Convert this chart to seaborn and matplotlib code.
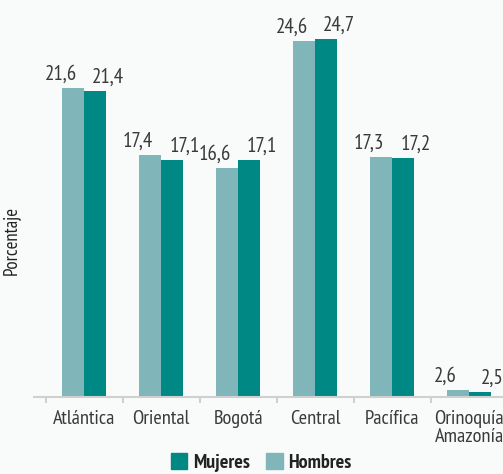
import pandas as pd
import seaborn as sns
import matplotlib.pyplot as plt
from matplotlib.patches import Patch

regiones = ["Atlántica", "Oriental", "Bogotá", "Central", "Pacífica", "Orinoquía\nAmazonía"]
hombres = [21.6, 17.4, 16.6, 24.6, 17.3, 2.6]
mujeres = [21.4, 17.1, 17.1, 24.7, 17.2, 2.5]

c_hom = "#80b5b9"
c_muj = "#008884"
bg = "#f9fafa"
txt = "#3a3a3a"

sns.set_theme(style="white")
plt.rcParams['font.family'] = ['PT Sans Narrow', 'Roboto Condensed', 'Archivo Narrow', 'DejaVu Sans']

df = pd.DataFrame({
    "region": regiones * 2,
    "valor": hombres + mujeres,
    "sexo": ["Hombres"] * len(regiones) + ["Mujeres"] * len(regiones),
})

fig = plt.figure(figsize=(5.03, 4.74), dpi=100, facecolor=bg)
ax = fig.add_axes([0.0676, 0.1624, 0.9324, 0.8376])
ax.set_facecolor(bg)

sns.barplot(data=df, x="region", y="valor", hue="sexo", hue_order=["Hombres", "Mujeres"],
            palette=[c_hom, c_muj], width=0.57, gap=0, saturation=1, legend=False,
            linewidth=0, ax=ax)

ax.set_xlim(-0.65, 5.44)
ax.set_ylim(2.17, 27.15)

# etiquetas de valores
for i, cont in enumerate(ax.containers):
    dx = -9 if i == 0 else 9
    for bar in cont:
        h = bar.get_height()
        ax.annotate(f"{h:.1f}".replace(".", ","),
                    (bar.get_x() + bar.get_width() / 2, h),
                    xytext=(dx, 3), textcoords="offset points",
                    ha="center", va="bottom", fontsize=15, color=txt)

for s in ["top", "right", "left"]:
    ax.spines[s].set_visible(False)
ax.spines["bottom"].set_color("#d0d0d0")
ax.spines["bottom"].set_linewidth(1.5)

ax.set_yticks([])
ax.set_xticks(range(len(regiones)))
ax.set_xticklabels(regiones, fontsize=14.7, color=txt, linespacing=1.05)
ax.set_xticks([i - 0.5 for i in range(len(regiones))], minor=True)
ax.tick_params(axis="x", which="major", length=0, pad=9)
ax.tick_params(axis="x", which="minor", length=4, width=1.5, color="#d0d0d0", bottom=True)
ax.set_xlabel("")
ax.set_ylabel("Porcentaje", fontsize=13.5, color="#222222")
ax.yaxis.set_label_coords(-0.03, 0.395)

handles = [Patch(color=c_muj, label="Mujeres"), Patch(color=c_hom, label="Hombres")]
fig.legend(handles=handles, loc="center", bbox_to_anchor=(0.52, 0.024), ncol=2,
           frameon=False, prop={"size": 14.5, "weight": "bold"}, handlelength=0.8,
           handleheight=0.8, handletextpad=0.3, columnspacing=0.8, labelcolor="#222222",
           borderpad=0)

fig.savefig("out.png", dpi=100, facecolor=bg)
